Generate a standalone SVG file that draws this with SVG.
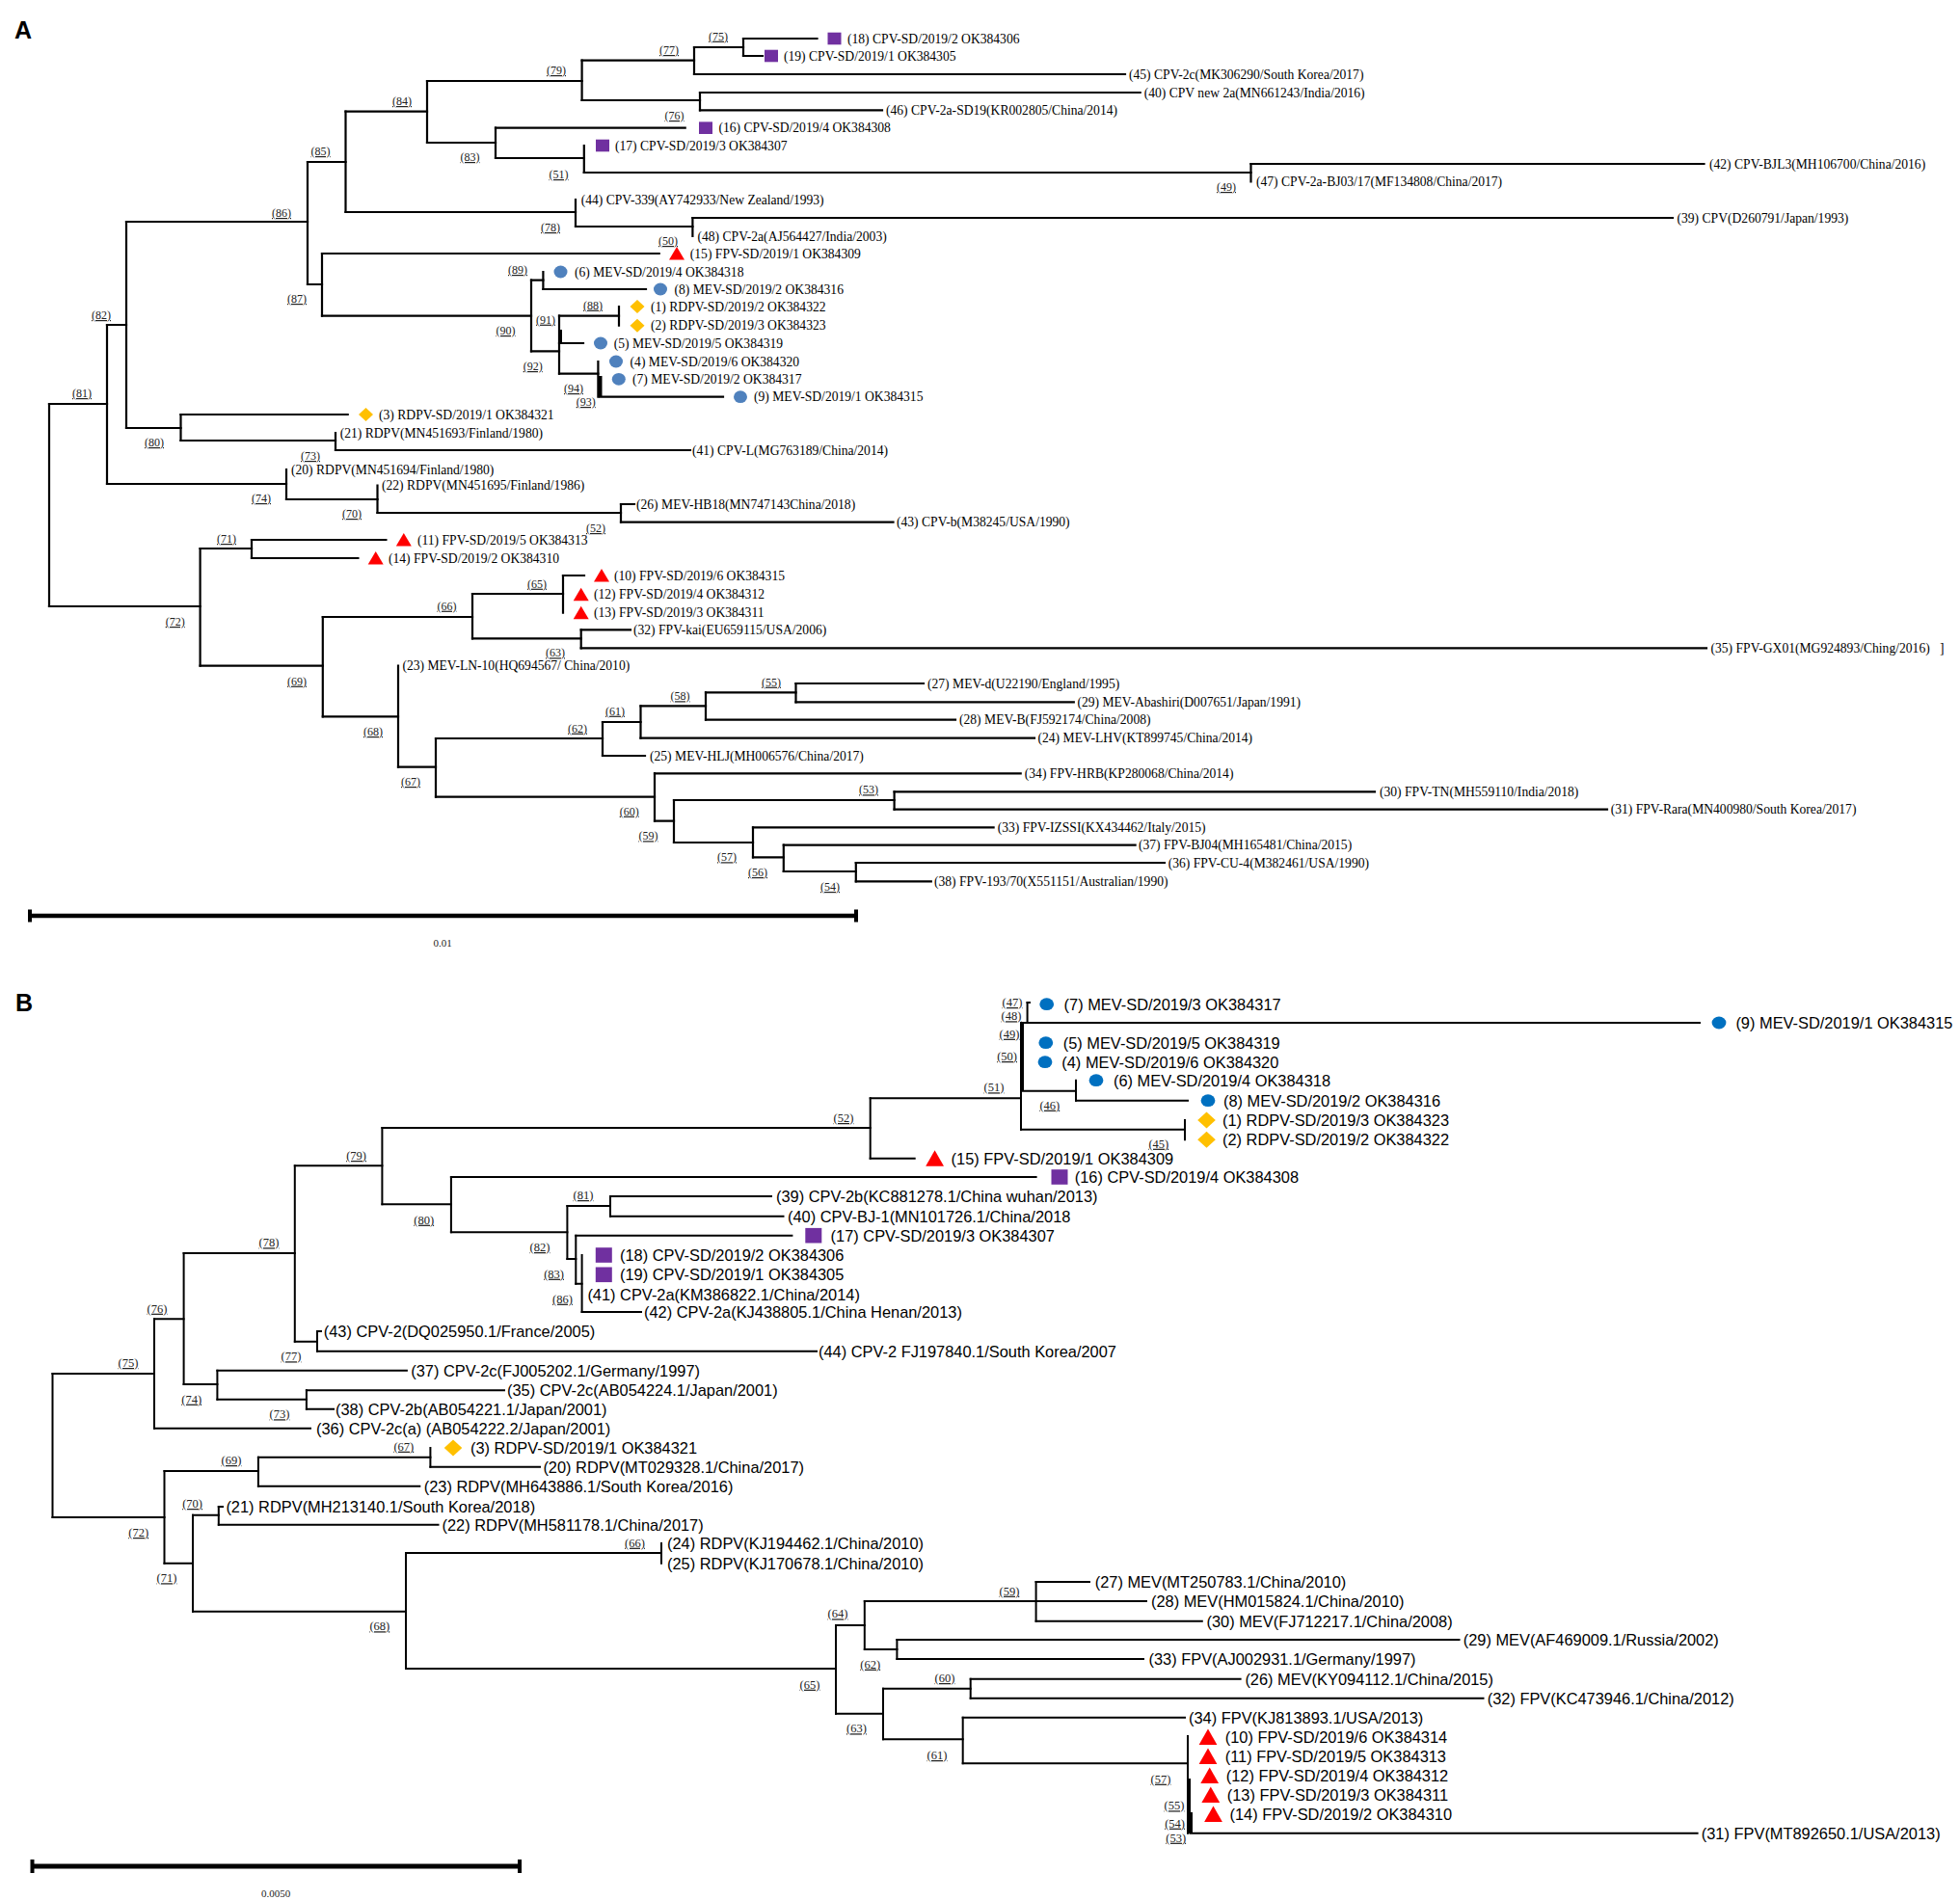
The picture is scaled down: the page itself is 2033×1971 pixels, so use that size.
<svg xmlns="http://www.w3.org/2000/svg" xmlns:xlink="http://www.w3.org/1999/xlink" width="2033" height="1971" viewBox="0 0 2033 1971">
<style>
.br{fill:none;stroke:#000;stroke-width:2.2;stroke-linecap:square}
.brB{fill:none;stroke:#000;stroke-width:2;stroke-linecap:square}
.thick{fill:none;stroke:#000;stroke-width:4}
.ta{font-family:'Liberation Serif','Times New Roman',serif;font-size:13.6px;fill:#000}
.tb{font-family:'Liberation Sans',Arial,sans-serif;font-size:16.4px;fill:#000}
.sa{font-family:'Liberation Serif','Times New Roman',serif;font-size:12px;fill:#222;text-decoration:underline;text-anchor:middle}
.sb{font-family:'Liberation Serif','Times New Roman',serif;font-size:12.5px;fill:#222;text-decoration:underline;text-anchor:middle}
.panel{font-family:'Liberation Sans',Arial,sans-serif;font-weight:bold;font-size:25px;fill:#000}
.scl{font-family:'Liberation Serif',serif;font-size:11px;fill:#222;text-anchor:middle}
.bar{stroke:#000;fill:none}
</style>
<defs>
<ellipse id="cA" rx="7" ry="6.4" fill="#4F81BD"/>
<rect id="sA" x="-7" y="-6.3" width="14" height="12.6" fill="#7030A0"/>
<polygon id="dA" points="0,-7 7.5,0 0,7 -7.5,0" fill="#FFC000"/>
<polygon id="tA" points="0,-7 8,6.5 -8,6.5" fill="#FF0000"/>
<ellipse id="cB" rx="7.4" ry="6.4" fill="#0070C0"/>
<rect id="sB" x="-8.5" y="-7.8" width="17" height="15.6" fill="#7030A0"/>
<polygon id="dB" points="0,-8.5 9.3,0 0,8.5 -9.3,0" fill="#FFC000"/>
<polygon id="tB" points="0,-8.5 9.4,8 -9.4,8" fill="#FF0000"/>
</defs>
<rect width="2033" height="1971" fill="#fff"/>

<text class="panel" x="15" y="40">A</text>
<text class="panel" x="16" y="1049">B</text>

<!-- ================= PANEL A connectors ================= -->
<g id="A-connectors">
<path class="br" d="M51 419V629 M111 337V502 M131 230V444 M319 168V295 M358.5 115.7V220 M443 84V148 M603.6 62.7V104 M720 49V77 M771 40V58 M726 96V114.3 M514 132.7V164 M605.8 151V179 M1297.5 170V188.5 M597 207V235 M718.4 226V245 M334 263V327.7 M551 290.7V364.3 M563.4 282V300 M580 327.7V387.7 M642 318V337.7 M620.4 375V411.7 M187.5 430V457 M348 449V467 M297 487V518 M391.5 503.5V532 M644 523V541.7 M207.6 569V690.7 M261 560V579 M334.8 640V743.3 M490 616V662.3 M584 597V635.7 M602.7 653.3V672.3 M413 690.5V795.7 M452 766V826.7 M625 749V784 M664.5 732.3V765.7 M732 718.3V746.7 M825.5 709V728.3 M679 802.3V851.7 M699 830V874 M927.6 821.3V839.7 M781 858.3V889.3 M812.8 876.7V904 M887.8 895V914.3"/>
<path class="br" d="M51 419H111 M51 629H207.6 M111 337H131 M111 502H297 M131 230H319 M131 444H187.5 M319 168H358.5 M319 295H334 M358.5 115.7H443 M358.5 220H597 M443 84H603.6 M443 148H514 M603.6 62.7H720 M603.6 104H726 M720 49H771 M514 164H605.8 M605.8 179H1297.5 M597 235H718.4 M334 327.7H551 M551 290.7H563.4 M551 364.3H580 M580 327.7H642 M580 387.7H620.4 M187.5 457H348 M297 518H391.5 M391.5 532H644 M207.6 569H261 M207.6 690.7H334.8 M334.8 640H490 M334.8 743.3H413 M490 616H584 M490 662.3H602.7 M413 795.7H452 M452 766H625 M452 826.7H679 M625 749H664.5 M664.5 732.3H732 M732 718.3H825.5 M679 851.7H699 M699 830H927.6 M699 874H781 M781 889.3H812.8 M812.8 904H887.8"/>
<path class="br" d="M771 40H847.5 M771 58H791 M720 77H1167 M726 96H1182.7 M726 114.3H915 M514 132.7H710.7 M1297.5 170H1767.5 M718.4 226H1735 M334 263H683.7 M563.4 300H670 M580 356H605 M622 411.7H750 M187.5 430H360.7 M348 467H716 M644 523H658 M644 541.7H926.5 M261 560H400.4 M261 579H371.4 M584 597H606 M602.7 653.3H654 M602.7 672.3H1770 M825.5 709H958 M825.5 728.3H1113.8 M732 746.7H991 M664.5 765.7H1073 M625 784H669 M679 802.3H1058.7 M927.6 821.3H1426 M927.6 839.7H1667 M781 858.3H1030.6 M812.8 876.7H1177.6 M887.8 895H1208 M887.8 914.3H965.8"/>
<path class="thick" d="M581 342V357 M622.5 390V411.7"/>
</g>

<!-- ================= PANEL A leaves ================= -->
<g id="A-leaf-18"><use href="#sA" x="865.5" y="40"/><text class="ta" x="879" y="44.6">(18) CPV-SD/2019/2 OK384306</text></g>
<g id="A-leaf-19"><use href="#sA" x="800" y="58"/><text class="ta" x="813" y="62.6">(19) CPV-SD/2019/1 OK384305</text></g>
<g id="A-leaf-45"><text class="ta" x="1171" y="81.6">(45) CPV-2c(MK306290/South Korea/2017)</text></g>
<g id="A-leaf-40"><text class="ta" x="1186.7" y="100.6">(40) CPV new 2a(MN661243/India/2016)</text></g>
<g id="A-leaf-46"><text class="ta" x="919" y="118.9">(46) CPV-2a-SD19(KR002805/China/2014)</text></g>
<g id="A-leaf-16"><use href="#sA" x="732" y="132.7"/><text class="ta" x="745.4" y="137.3">(16) CPV-SD/2019/4 OK384308</text></g>
<g id="A-leaf-17"><use href="#sA" x="625" y="151"/><text class="ta" x="638" y="155.6">(17) CPV-SD/2019/3 OK384307</text></g>
<g id="A-leaf-42"><text class="ta" x="1773" y="174.6">(42) CPV-BJL3(MH106700/China/2016)</text></g>
<g id="A-leaf-47"><text class="ta" x="1303" y="193.1">(47) CPV-2a-BJ03/17(MF134808/China/2017)</text></g>
<g id="A-leaf-44"><text class="ta" x="602.7" y="211.6">(44) CPV-339(AY742933/New Zealand/1993)</text></g>
<g id="A-leaf-39"><text class="ta" x="1739.5" y="230.6">(39) CPV(D260791/Japan/1993)</text></g>
<g id="A-leaf-48"><text class="ta" x="723.5" y="249.6">(48) CPV-2a(AJ564427/India/2003)</text></g>
<g id="A-leaf-15"><use href="#tA" x="702" y="263"/><text class="ta" x="715.8" y="267.6">(15) FPV-SD/2019/1 OK384309</text></g>
<g id="A-leaf-6"><use href="#cA" x="581.5" y="282"/><text class="ta" x="596" y="286.6">(6) MEV-SD/2019/4 OK384318</text></g>
<g id="A-leaf-8"><use href="#cA" x="685" y="300"/><text class="ta" x="699.5" y="304.6">(8) MEV-SD/2019/2 OK384316</text></g>
<g id="A-leaf-1"><use href="#dA" x="661" y="318"/><text class="ta" x="675" y="322.6">(1) RDPV-SD/2019/2 OK384322</text></g>
<g id="A-leaf-2"><use href="#dA" x="661" y="337.7"/><text class="ta" x="675" y="342.3">(2) RDPV-SD/2019/3 OK384323</text></g>
<g id="A-leaf-5"><use href="#cA" x="623" y="356"/><text class="ta" x="636.7" y="360.6">(5) MEV-SD/2019/5 OK384319</text></g>
<g id="A-leaf-4"><use href="#cA" x="639" y="375"/><text class="ta" x="653.6" y="379.6">(4) MEV-SD/2019/6 OK384320</text></g>
<g id="A-leaf-7"><use href="#cA" x="641.8" y="393.3"/><text class="ta" x="656" y="397.9">(7) MEV-SD/2019/2 OK384317</text></g>
<g id="A-leaf-9"><use href="#cA" x="768" y="411.7"/><text class="ta" x="782" y="416.3">(9) MEV-SD/2019/1 OK384315</text></g>
<g id="A-leaf-3"><use href="#dA" x="379.5" y="430"/><text class="ta" x="393" y="434.6">(3) RDPV-SD/2019/1 OK384321</text></g>
<g id="A-leaf-21"><text class="ta" x="352.7" y="453.6">(21) RDPV(MN451693/Finland/1980)</text></g>
<g id="A-leaf-41"><text class="ta" x="718" y="471.6">(41) CPV-L(MG763189/China/2014)</text></g>
<g id="A-leaf-20"><text class="ta" x="302" y="491.6">(20) RDPV(MN451694/Finland/1980)</text></g>
<g id="A-leaf-22"><text class="ta" x="396" y="508.1">(22) RDPV(MN451695/Finland/1986)</text></g>
<g id="A-leaf-26"><text class="ta" x="660" y="527.6">(26) MEV-HB18(MN747143China/2018)</text></g>
<g id="A-leaf-43"><text class="ta" x="930" y="546.3">(43) CPV-b(M38245/USA/1990)</text></g>
<g id="A-leaf-11"><use href="#tA" x="418.8" y="560"/><text class="ta" x="433" y="564.6">(11) FPV-SD/2019/5 OK384313</text></g>
<g id="A-leaf-14"><use href="#tA" x="389.7" y="579"/><text class="ta" x="403" y="583.6">(14) FPV-SD/2019/2 OK384310</text></g>
<g id="A-leaf-10"><use href="#tA" x="624" y="597"/><text class="ta" x="637" y="601.6">(10) FPV-SD/2019/6 OK384315</text></g>
<g id="A-leaf-12"><use href="#tA" x="602.7" y="616.7"/><text class="ta" x="616" y="621.3">(12) FPV-SD/2019/4 OK384312</text></g>
<g id="A-leaf-13"><use href="#tA" x="602.7" y="635.7"/><text class="ta" x="616" y="640.3">(13) FPV-SD/2019/3 OK384311</text></g>
<g id="A-leaf-32"><text class="ta" x="657" y="657.9">(32) FPV-kai(EU659115/USA/2006)</text></g>
<g id="A-leaf-35"><text class="ta" x="1774.5" y="676.9">(35) FPV-GX01(MG924893/Ching/2016)</text><text class="ta" x="2012" y="677">]</text></g>
<g id="A-leaf-23"><text class="ta" x="417.4" y="695.1">(23) MEV-LN-10(HQ694567/ China/2010)</text></g>
<g id="A-leaf-27"><text class="ta" x="962" y="713.6">(27) MEV-d(U22190/England/1995)</text></g>
<g id="A-leaf-29"><text class="ta" x="1117.4" y="732.9">(29) MEV-Abashiri(D007651/Japan/1991)</text></g>
<g id="A-leaf-28"><text class="ta" x="995" y="751.3">(28) MEV-B(FJ592174/China/2008)</text></g>
<g id="A-leaf-24"><text class="ta" x="1076.5" y="770.3">(24) MEV-LHV(KT899745/China/2014)</text></g>
<g id="A-leaf-25"><text class="ta" x="674" y="788.6">(25) MEV-HLJ(MH006576/China/2017)</text></g>
<g id="A-leaf-34"><text class="ta" x="1062.8" y="806.9">(34) FPV-HRB(KP280068/China/2014)</text></g>
<g id="A-leaf-30"><text class="ta" x="1431" y="825.9">(30) FPV-TN(MH559110/India/2018)</text></g>
<g id="A-leaf-31"><text class="ta" x="1670.7" y="844.3">(31) FPV-Rara(MN400980/South Korea/2017)</text></g>
<g id="A-leaf-33"><text class="ta" x="1034.7" y="862.9">(33) FPV-IZSSI(KX434462/Italy/2015)</text></g>
<g id="A-leaf-37"><text class="ta" x="1181" y="881.3">(37) FPV-BJ04(MH165481/China/2015)</text></g>
<g id="A-leaf-36"><text class="ta" x="1211.7" y="899.6">(36) FPV-CU-4(M382461/USA/1990)</text></g>
<g id="A-leaf-38"><text class="ta" x="969" y="918.9">(38) FPV-193/70(X551151/Australian/1990)</text></g>

<g id="A-support">
<text class="sa" x="85" y="412">(81)</text>
<text class="sa" x="105" y="331">(82)</text>
<text class="sa" x="292" y="225">(86)</text>
<text class="sa" x="332.6" y="161">(85)</text>
<text class="sa" x="308" y="314">(87)</text>
<text class="sa" x="417" y="109">(84)</text>
<text class="sa" x="571" y="240">(78)</text>
<text class="sa" x="577" y="77">(79)</text>
<text class="sa" x="487.5" y="167">(83)</text>
<text class="sa" x="694" y="56">(77)</text>
<text class="sa" x="745" y="41.7">(75)</text>
<text class="sa" x="699.5" y="124">(76)</text>
<text class="sa" x="579.5" y="185">(51)</text>
<text class="sa" x="1272" y="198">(49)</text>
<text class="sa" x="693" y="254">(50)</text>
<text class="sa" x="537" y="284">(89)</text>
<text class="sa" x="524.5" y="347">(90)</text>
<text class="sa" x="615" y="320.7">(88)</text>
<text class="sa" x="566" y="335.7">(91)</text>
<text class="sa" x="552.7" y="384">(92)</text>
<text class="sa" x="595" y="407">(94)</text>
<text class="sa" x="607.7" y="421">(93)</text>
<text class="sa" x="160" y="463">(80)</text>
<text class="sa" x="322" y="477">(73)</text>
<text class="sa" x="271" y="521">(74)</text>
<text class="sa" x="365" y="537">(70)</text>
<text class="sa" x="618" y="552">(52)</text>
<text class="sa" x="235" y="563">(71)</text>
<text class="sa" x="181.7" y="649">(72)</text>
<text class="sa" x="557" y="609.7">(65)</text>
<text class="sa" x="463.4" y="632.7">(66)</text>
<text class="sa" x="576" y="681.3">(63)</text>
<text class="sa" x="308" y="710.7">(69)</text>
<text class="sa" x="387" y="763">(68)</text>
<text class="sa" x="426" y="815">(67)</text>
<text class="sa" x="599" y="759.7">(62)</text>
<text class="sa" x="638" y="741.7">(61)</text>
<text class="sa" x="705.6" y="726.3">(58)</text>
<text class="sa" x="800" y="711.7">(55)</text>
<text class="sa" x="652.7" y="845.7">(60)</text>
<text class="sa" x="672.4" y="871.3">(59)</text>
<text class="sa" x="901" y="823.3">(53)</text>
<text class="sa" x="754" y="893.3">(57)</text>
<text class="sa" x="786" y="909">(56)</text>
<text class="sa" x="861" y="924">(54)</text>
</g>

<g id="A-scale">
<path class="bar" stroke-width="4.5" d="M31 950H888"/>
<path class="bar" stroke-width="4" d="M31 943.5V956.5 M888 943.5V956.5"/>
<text class="scl" x="459" y="982">0.01</text>
</g>

<!-- ================= PANEL B connectors ================= -->
<g id="B-connectors">
<path class="brB" d="M54.5 1425V1574 M160 1368.3V1481.7 M190.6 1300V1436 M225.4 1421.7V1451.7 M317.9 1442.3V1461.7 M305.8 1209.3V1391.7 M329 1381V1401.7 M396.4 1170V1249.3 M467.9 1221V1278.3 M588.4 1251V1306 M633 1241V1261.7 M597.3 1281.7V1331.7 M603.6 1302V1361 M902.7 1139.3V1201.7 M1059 1061V1171.7 M1065.6 1040V1061 M1116 1120.7V1141.7 M1229 1162V1182.3 M170.5 1526V1621.7 M267.9 1511.7V1541.7 M446.4 1502V1521.7 M200 1571.7V1671.7 M226.8 1563V1581.7 M421 1611V1731 M686 1601V1621.7 M867 1686V1777.7 M896.8 1661V1711 M1074.6 1641V1681.7 M930.4 1701V1721 M916 1751.7V1804.3 M1006.7 1741.7V1761.7 M998.7 1781.7V1829.3 M1232 1801V1901.7"/>
<path class="brB" d="M54.5 1425H160 M54.5 1574H170.5 M160 1368.3H190.6 M190.6 1300H305.8 M190.6 1436H225.4 M225.4 1451.7H317.9 M305.8 1209.3H396.4 M305.8 1391.7H329 M396.4 1170H902.7 M396.4 1249.3H467.9 M467.9 1278.3H588.4 M588.4 1251H633 M588.4 1306H597.3 M597.3 1331.7H603.6 M902.7 1139.3H1059 M1059 1061H1065.6 M1059 1131.7H1116 M1059 1171.7H1229 M170.5 1526H267.9 M170.5 1621.7H200 M267.9 1511.7H446.4 M200 1571.7H226.8 M200 1671.7H421 M421 1611H686 M421 1731H867 M867 1686H896.8 M867 1777.7H916 M896.8 1661H1074.6 M896.8 1711H930.4 M916 1751.7H1006.7 M916 1804.3H998.7 M998.7 1829.3H1232"/>
<path class="brB" d="M1065.6 1061H1763 M1116 1141.7H1232 M902.7 1201.7H948.7 M467.9 1221H1074.6 M633 1241H800 M633 1261.7H812.5 M597.3 1281.7H821.4 M603.6 1361H665 M329 1401.7H847 M225.4 1421.7H421.9 M317.9 1442.3H523 M317.9 1461.7H346 M160 1481.7H322 M446.4 1521.7H560 M267.9 1541.7H435.3 M226.8 1581.7H454.5 M1074.6 1641H1130 M1074.6 1661H1189 M1074.6 1681.7H1246.8 M930.4 1701H1513.5 M930.4 1721H1186 M1006.7 1741.7H1286.6 M1006.7 1761.7H1538.5 M998.7 1781.7H1229 M1234.5 1901.7H1760.6 M329 1381H333 M226.8 1563H231 M1065.6 1040H1068"/>
<path class="thick" d="M1060 1061V1131.7 M1233 1845V1901.7 M1235 1880V1901.7"/>
</g>

<!-- ================= PANEL B leaves ================= -->
<g id="B-leaf-7"><use href="#cB" x="1085.7" y="1041.7"/><text class="tb" x="1103.6" y="1047.6">(7) MEV-SD/2019/3 OK384317</text></g>
<g id="B-leaf-9"><use href="#cB" x="1783" y="1061"/><text class="tb" x="1800.4" y="1066.9">(9) MEV-SD/2019/1 OK384315</text></g>
<g id="B-leaf-5"><use href="#cB" x="1084.8" y="1081.7"/><text class="tb" x="1102.7" y="1087.6">(5) MEV-SD/2019/5 OK384319</text></g>
<g id="B-leaf-4"><use href="#cB" x="1084" y="1101.7"/><text class="tb" x="1101.3" y="1107.6">(4) MEV-SD/2019/6 OK384320</text></g>
<g id="B-leaf-6"><use href="#cB" x="1137" y="1120.7"/><text class="tb" x="1155" y="1126.6">(6) MEV-SD/2019/4 OK384318</text></g>
<g id="B-leaf-8"><use href="#cB" x="1253" y="1141.7"/><text class="tb" x="1269" y="1147.6">(8) MEV-SD/2019/2 OK384316</text></g>
<g id="B-leaf-1"><use href="#dB" x="1251.5" y="1162"/><text class="tb" x="1268" y="1167.9">(1) RDPV-SD/2019/3 OK384323</text></g>
<g id="B-leaf-2"><use href="#dB" x="1251.5" y="1182.3"/><text class="tb" x="1268" y="1188.2">(2) RDPV-SD/2019/2 OK384322</text></g>
<g id="B-leaf-15"><use href="#tB" x="969.6" y="1201.7"/><text class="tb" x="986.6" y="1207.6">(15) FPV-SD/2019/1 OK384309</text></g>
<g id="B-leaf-16"><use href="#sB" x="1099" y="1221"/><text class="tb" x="1114.7" y="1226.9">(16) CPV-SD/2019/4 OK384308</text></g>
<g id="B-leaf-39"><text class="tb" x="805" y="1246.9">(39) CPV-2b(KC881278.1/China wuhan/2013)</text></g>
<g id="B-leaf-40"><text class="tb" x="817" y="1267.6">(40) CPV-BJ-1(MN101726.1/China/2018</text></g>
<g id="B-leaf-17"><use href="#sB" x="843.8" y="1281.7"/><text class="tb" x="861.6" y="1287.6">(17) CPV-SD/2019/3 OK384307</text></g>
<g id="B-leaf-18"><use href="#sB" x="626.3" y="1302"/><text class="tb" x="643" y="1307.9">(18) CPV-SD/2019/2 OK384306</text></g>
<g id="B-leaf-19"><use href="#sB" x="626.3" y="1322.3"/><text class="tb" x="643" y="1328.2">(19) CPV-SD/2019/1 OK384305</text></g>
<g id="B-leaf-41"><text class="tb" x="609.4" y="1348.9">(41) CPV-2a(KM386822.1/China/2014)</text></g>
<g id="B-leaf-42"><text class="tb" x="668" y="1366.9">(42) CPV-2a(KJ438805.1/China Henan/2013)</text></g>
<g id="B-leaf-43"><text class="tb" x="335.7" y="1386.9">(43) CPV-2(DQ025950.1/France/2005)</text></g>
<g id="B-leaf-44"><text class="tb" x="849" y="1407.6">(44) CPV-2 FJ197840.1/South Korea/2007</text></g>
<g id="B-leaf-37"><text class="tb" x="426.3" y="1427.6">(37) CPV-2c(FJ005202.1/Germany/1997)</text></g>
<g id="B-leaf-35"><text class="tb" x="526" y="1448.2">(35) CPV-2c(AB054224.1/Japan/2001)</text></g>
<g id="B-leaf-38"><text class="tb" x="348" y="1467.6">(38) CPV-2b(AB054221.1/Japan/2001)</text></g>
<g id="B-leaf-36"><text class="tb" x="328" y="1487.6">(36) CPV-2c(a) (AB054222.2/Japan/2001)</text></g>
<g id="B-leaf-3"><use href="#dB" x="470" y="1502"/><text class="tb" x="488" y="1507.9">(3) RDPV-SD/2019/1 OK384321</text></g>
<g id="B-leaf-20"><text class="tb" x="563.4" y="1527.6">(20) RDPV(MT029328.1/China/2017)</text></g>
<g id="B-leaf-23"><text class="tb" x="439.7" y="1547.6">(23) RDPV(MH643886.1/South Korea/2016)</text></g>
<g id="B-leaf-21"><text class="tb" x="234.4" y="1568.9">(21) RDPV(MH213140.1/South Korea/2018)</text></g>
<g id="B-leaf-22"><text class="tb" x="458.5" y="1587.6">(22) RDPV(MH581178.1/China/2017)</text></g>
<g id="B-leaf-24"><text class="tb" x="692" y="1606.9">(24) RDPV(KJ194462.1/China/2010)</text></g>
<g id="B-leaf-25"><text class="tb" x="692" y="1627.6">(25) RDPV(KJ170678.1/China/2010)</text></g>
<g id="B-leaf-27"><text class="tb" x="1135.7" y="1646.9">(27) MEV(MT250783.1/China/2010)</text></g>
<g id="B-leaf-28"><text class="tb" x="1194" y="1666.9">(28) MEV(HM015824.1/China/2010)</text></g>
<g id="B-leaf-30"><text class="tb" x="1251.5" y="1687.6">(30) MEV(FJ712217.1/China/2008)</text></g>
<g id="B-leaf-29"><text class="tb" x="1517.7" y="1706.9">(29) MEV(AF469009.1/Russia/2002)</text></g>
<g id="B-leaf-33"><text class="tb" x="1191.5" y="1726.9">(33) FPV(AJ002931.1/Germany/1997)</text></g>
<g id="B-leaf-26"><text class="tb" x="1291.4" y="1747.6">(26) MEV(KY094112.1/China/2015)</text></g>
<g id="B-leaf-32"><text class="tb" x="1542.7" y="1767.6">(32) FPV(KC473946.1/China/2012)</text></g>
<g id="B-leaf-34"><text class="tb" x="1233" y="1787.6">(34) FPV(KJ813893.1/USA/2013)</text></g>
<g id="B-leaf-10"><use href="#tB" x="1253" y="1802"/><text class="tb" x="1270.7" y="1807.9">(10) FPV-SD/2019/6 OK384314</text></g>
<g id="B-leaf-11"><use href="#tB" x="1253" y="1822"/><text class="tb" x="1270.7" y="1827.9">(11) FPV-SD/2019/5 OK384313</text></g>
<g id="B-leaf-12"><use href="#tB" x="1254.7" y="1842"/><text class="tb" x="1271.7" y="1847.9">(12) FPV-SD/2019/4 OK384312</text></g>
<g id="B-leaf-13"><use href="#tB" x="1255.8" y="1862"/><text class="tb" x="1272.8" y="1867.9">(13) FPV-SD/2019/3 OK384311</text></g>
<g id="B-leaf-14"><use href="#tB" x="1258.5" y="1882"/><text class="tb" x="1275.5" y="1887.9">(14) FPV-SD/2019/2 OK384310</text></g>
<g id="B-leaf-31"><text class="tb" x="1764.8" y="1907.6">(31) FPV(MT892650.1/USA/2013)</text></g>

<g id="B-support">
<text class="sb" x="133" y="1418">(75)</text>
<text class="sb" x="163" y="1361.7">(76)</text>
<text class="sb" x="279" y="1293.3">(78)</text>
<text class="sb" x="369.6" y="1203">(79)</text>
<text class="sb" x="198.7" y="1455.7">(74)</text>
<text class="sb" x="302" y="1411.3">(77)</text>
<text class="sb" x="290" y="1471.3">(73)</text>
<text class="sb" x="439.7" y="1269.7">(80)</text>
<text class="sb" x="560" y="1298">(82)</text>
<text class="sb" x="605" y="1244">(81)</text>
<text class="sb" x="574.6" y="1325.7">(83)</text>
<text class="sb" x="583.5" y="1351.7">(86)</text>
<text class="sb" x="875" y="1164">(52)</text>
<text class="sb" x="1031" y="1132.3">(51)</text>
<text class="sb" x="1050" y="1044">(47)</text>
<text class="sb" x="1049" y="1058.3">(48)</text>
<text class="sb" x="1047" y="1076.7">(49)</text>
<text class="sb" x="1044.6" y="1100">(50)</text>
<text class="sb" x="1088.8" y="1150.7">(46)</text>
<text class="sb" x="1201.8" y="1190.7">(45)</text>
<text class="sb" x="143.7" y="1594">(72)</text>
<text class="sb" x="240" y="1519">(69)</text>
<text class="sb" x="418.8" y="1504.7">(67)</text>
<text class="sb" x="173" y="1641.3">(71)</text>
<text class="sb" x="199.6" y="1564">(70)</text>
<text class="sb" x="393.8" y="1691.3">(68)</text>
<text class="sb" x="658.5" y="1604.7">(66)</text>
<text class="sb" x="840" y="1751.7">(65)</text>
<text class="sb" x="869" y="1678.3">(64)</text>
<text class="sb" x="888.4" y="1797.3">(63)</text>
<text class="sb" x="1046.9" y="1654.7">(59)</text>
<text class="sb" x="902.7" y="1730.7">(62)</text>
<text class="sb" x="980" y="1745">(60)</text>
<text class="sb" x="972" y="1825">(61)</text>
<text class="sb" x="1204" y="1849.7">(57)</text>
<text class="sb" x="1218" y="1877.3">(55)</text>
<text class="sb" x="1218.6" y="1895.7">(54)</text>
<text class="sb" x="1219.7" y="1910.7">(53)</text>
</g>

<g id="B-scale">
<path class="bar" stroke-width="5" d="M33.5 1936H539"/>
<path class="bar" stroke-width="4" d="M33.5 1929V1943 M539 1929V1943"/>
<text class="scl" x="286" y="1968">0.0050</text>
</g>
</svg>
